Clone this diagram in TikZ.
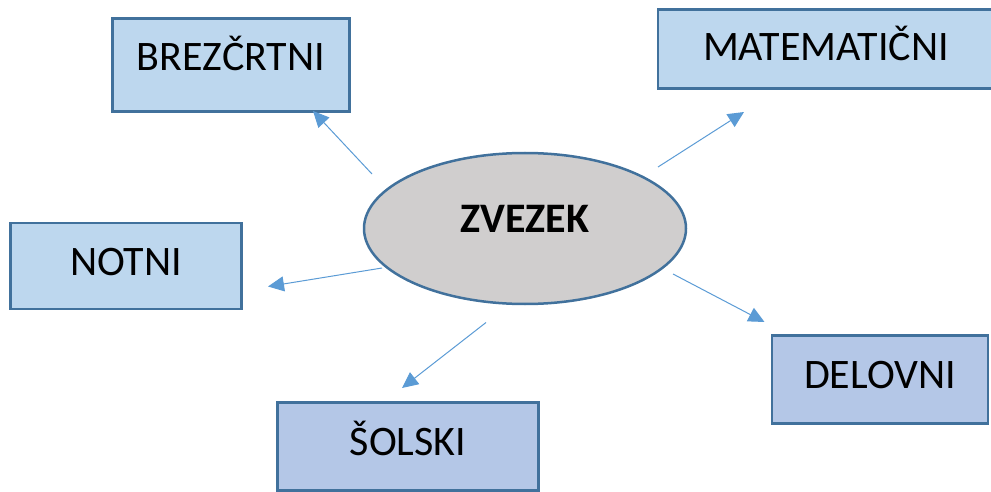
\documentclass[tikz,border=0pt]{standalone}
\usepackage{fontspec}
\setmainfont{Carlito}
\usetikzlibrary{arrows.meta}
\usetikzlibrary{shapes.geometric}

\definecolor{boxfill}{HTML}{BDD7EE}
\definecolor{boxfilldark}{HTML}{B4C7E7}
\definecolor{boxline}{HTML}{41719C}
\definecolor{ellfill}{HTML}{D0CECE}
\definecolor{arrline}{HTML}{5B9BD5}

\tikzset{
  box/.style={rectangle,draw=boxline,line width=2.5pt,fill=boxfill,inner sep=0pt,
    font=\fontsize{42}{50}\selectfont,text height=27pt},
  boxdark/.style={box,fill=boxfilldark},
  arr/.style={draw=arrline,line width=1pt,-{Triangle[length=16pt,width=15pt]}}
}

\begin{document}
\begin{tikzpicture}[x=1pt,y=-1pt]
\clip (0,0) rectangle (991,492);

\node[ellipse,draw=boxline,line width=2.5pt,fill=ellfill,inner sep=0pt,minimum width=322pt,minimum height=151pt,
  font=\fontsize{42}{50}\selectfont\bfseries,text height=27pt,text depth=20pt] (zvezek) at (525,228.5) {ZVEZEK};

\node[box,minimum width=237pt,minimum height=93pt,text depth=16.6pt] (brezcrtni) at (231,65) {BREZČRTNI};
\node[box,minimum width=336pt,minimum height=79pt,text depth=3pt] (matematicni) at (826,49) {MATEMATIČNI};
\node[box,minimum width=231pt,minimum height=86pt,text depth=8pt] (notni) at (126,266) {NOTNI};
\node[boxdark,minimum width=216pt,minimum height=88pt,text depth=9.6pt] (delovni) at (880,379.5) {DELOVNI};
\node[boxdark,minimum width=261pt,minimum height=88pt,text depth=10pt] (solski) at (408,446.5) {ŠOLSKI};

% arrows
\coordinate (s1) at (372,174);
\coordinate (t1) at (313,111);
\coordinate (s2) at (658,167);
\coordinate (t2) at (744,112);
\coordinate (s3) at (382,268);
\coordinate (t3) at (268,286.5);
\coordinate (s4) at (673,274);
\coordinate (t4) at (764.5,322);
\coordinate (s5) at (486,322.5);
\coordinate (t5) at (402,388);

\draw[arr] (s1) -- (t1);
\draw[arr] (s2) -- (t2);
\draw[arr] (s3) -- (t3);
\draw[arr] (s4) -- (t4);
\draw[arr] (s5) -- (t5);

\end{tikzpicture}
\end{document}
